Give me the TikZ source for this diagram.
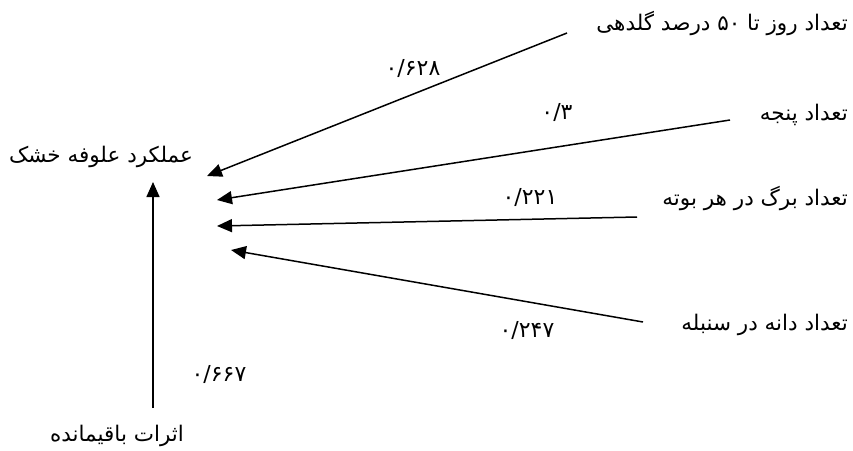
\documentclass[tikz,border=0pt]{standalone}
\usepackage{fontspec}
\usetikzlibrary{arrows.meta}
\TeXXeTstate=1
\newfontfamily\arabicfont[Script=Arabic]{DejaVu Sans}
\newfontfamily\numfont{DejaVu Sans}
\begin{document}
\begin{tikzpicture}[x=1pt,y=-1pt,
  lbl/.style={font=\arabicfont\fontsize{21.5}{24}\selectfont, inner sep=0pt},
  num/.style={font=\numfont\fontsize{22}{24}\selectfont, inner sep=0pt},
  arr/.style={line width=1.5pt, -{Triangle[length=15pt,width=13pt]}}]
\useasboundingbox (0,0) rectangle (853,450);
% texts
\node[lbl, anchor=east] (n1) at (848,23) {\beginR تعداد روز تا ۵۰ درصد گلدهی\endR};
\node[lbl, anchor=east] (n2) at (848,115) {\beginR تعداد پنجه\endR};
\node[lbl, anchor=east] (n3) at (848,198) {\beginR تعداد برگ در هر بوته\endR};
\node[lbl, anchor=east] (n4) at (848,325) {\beginR تعداد دانه در سنبله\endR};
\node[lbl] (y) at (101,157) {\beginR عملکرد علوفه خشک\endR};
\node[lbl] (r) at (117,436) {\beginR اثرات باقیمانده\endR};
% coefficients
\node[num] (c1) at (413,68) {۰/۶۲۸};
\node[num] (c2) at (557,112) {۰/۳};
\node[num] (c3) at (530,197) {۰/۲۲۱};
\node[num] (c4) at (527,330) {۰/۲۴۷};
\node[num] (c5) at (219,374) {۰/۶۶۷};
% connector ends
\coordinate (s1) at (567,33);  \coordinate (t1) at (207,176);
\coordinate (s2) at (730,120); \coordinate (t2) at (217,200);
\coordinate (s3) at (637,217); \coordinate (t3) at (217,226);
\coordinate (s4) at (643,322); \coordinate (t4) at (231,250);
\coordinate (s5) at (153,408); \coordinate (t5) at (153,182);
\draw[arr] (s1) -- (t1);
\draw[arr] (s2) -- (t2);
\draw[arr] (s3) -- (t3);
\draw[arr] (s4) -- (t4);
\draw[arr] (s5) -- (t5);
\end{tikzpicture}
\end{document}
